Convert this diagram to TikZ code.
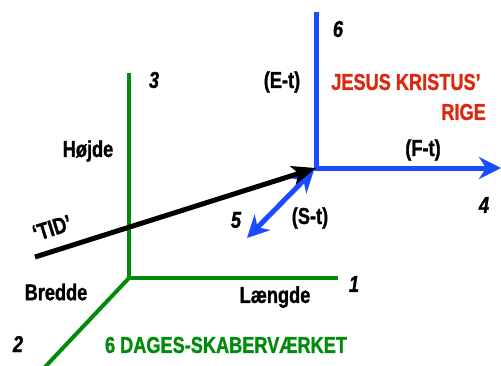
\documentclass[tikz,border=0pt]{standalone}
\usepackage{fontspec}
\setmainfont{Liberation Sans}[
  FakeStretch=0.79,
  FakeBold=1.2]
\usetikzlibrary{arrows.meta}

\definecolor{skabgreen}{RGB}{0,140,10}
\definecolor{rigeblue}{RGB}{25,75,255}
\definecolor{rigered}{RGB}{220,40,15}

\begin{document}
\begin{tikzpicture}[
  x=1pt, y=-1pt,
  >={Stealth[length=22pt,width=22pt,inset=7pt]},
  lbl/.style={inner sep=0pt, font=\fontsize{23}{26}\selectfont\bfseries},
  num/.style={inner sep=0pt, font=\fontsize{23}{26}\selectfont\bfseries\itshape},
  gaxis/.style={draw=skabgreen, line width=4pt},
  baxis/.style={draw=rigeblue, line width=5pt},
  tid/.style={draw=black, line width=5pt}
]
\useasboundingbox (0,0) rectangle (501,365);

% the six-day creation axes
\coordinate (go) at (129,278);
\coordinate (gup) at (129,75);
\coordinate (gright) at (336,278);
\coordinate (gdown) at (45,367);
\draw[gaxis, line cap=rect] (gup) -- (go) -- (gright);
\draw[gaxis] (go) -- (gdown);

% the kingdom axes
\coordinate (bo) at (316,168);
\coordinate (bup) at (316,12);
\coordinate (bright) at (501,168);
\coordinate (bin) at (314,170);
\coordinate (bout) at (247,238);
\draw[baxis] (bup) -- (bo);
\draw[baxis, ->] (bo.center) ++(-2.5,0) -- (bright);
\draw[baxis, <->] (bout) -- (bin);

% time
\coordinate (tstart) at (35,257);
\draw[tid, -{Stealth[length=24pt,width=19pt,inset=6pt]}] (tstart) -- (bo);

\node[num] (n3) at (154,80) {3};
\node[lbl] (hoejde) at (88,151) {Højde};
\node[lbl, rotate=17.6] (tidlbl) at (52,228) {‘TID’};
\node[lbl] (bredde) at (56,292) {Bredde};
\node[num] (n2) at (18,344) {2};
\node[lbl, text=skabgreen] (skab) at (226,345) {6 DAGES-SKABERVÆRKET};
\node[lbl] (laengde) at (275,297) {Længde};
\node[num] (n1) at (354,284) {1};
\node[num] (n5) at (236,220) {5};
\node[lbl] (st) at (310,218) {(S-t)};
\node[lbl] (et) at (282,82) {(E-t)};
\node[num] (n6) at (338,29) {6};
\node[lbl, text=rigered] (jesus) at (406,82) {JESUS KRISTUS’};
\node[lbl, text=rigered, anchor=east] (rige) at (486,112) {RIGE};
\node[lbl] (ft) at (423,150) {(F-t)};
\node[num] (n4) at (484,205) {4};
\end{tikzpicture}
\end{document}
